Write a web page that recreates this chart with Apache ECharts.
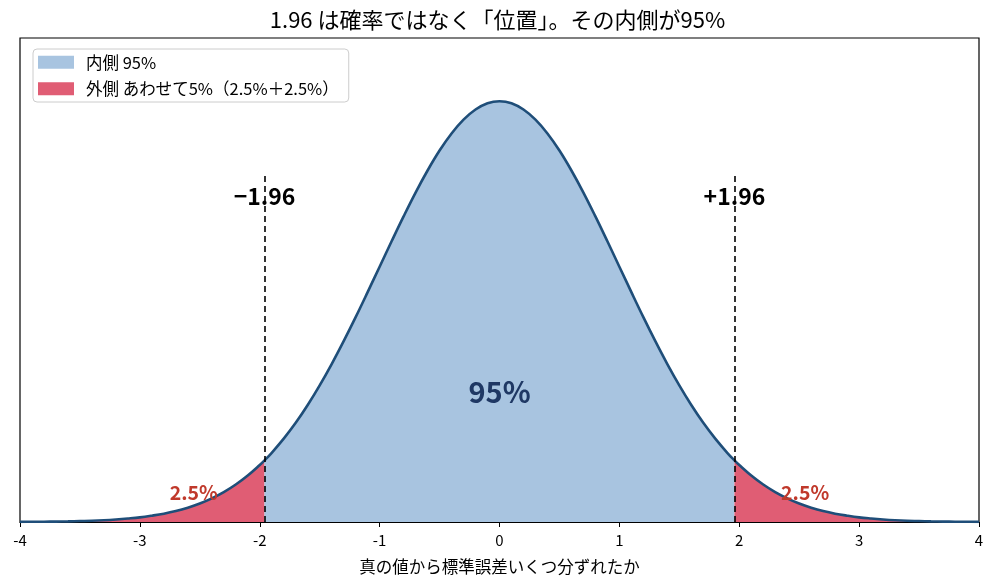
<!DOCTYPE html>
<html>
<head>
<meta charset="utf-8">
<script src="https://cdn.jsdelivr.net/npm/echarts@6/dist/echarts.min.js"></script>
<style>
  html, body { margin: 0; padding: 0; background: #fff; }
  #chart { width: 995px; height: 587px; }
</style>
</head>
<body>
<div id="chart"></div>
<script>
// 標準正規分布の曲線
var curveX = [-4.0, -3.9, -3.8, -3.7, -3.6, -3.5, -3.4, -3.3, -3.2, -3.1,
  -3.0, -2.9, -2.8, -2.7, -2.6, -2.5, -2.4, -2.3, -2.2, -2.1,
  -2.0, -1.96, -1.9, -1.8, -1.7, -1.6, -1.5, -1.4, -1.3, -1.2, -1.1,
  -1.0, -0.9, -0.8, -0.7, -0.6, -0.5, -0.4, -0.3, -0.2, -0.1,
  0.0, 0.1, 0.2, 0.3, 0.4, 0.5, 0.6, 0.7, 0.8, 0.9,
  1.0, 1.1, 1.2, 1.3, 1.4, 1.5, 1.6, 1.7, 1.8, 1.9, 1.96,
  2.0, 2.1, 2.2, 2.3, 2.4, 2.5, 2.6, 2.7, 2.8, 2.9,
  3.0, 3.1, 3.2, 3.3, 3.4, 3.5, 3.6, 3.7, 3.8, 3.9, 4.0];
var curveY = [0.0001, 0.0002, 0.0003, 0.0004, 0.0006, 0.0009, 0.0012, 0.0017, 0.0024, 0.0033,
  0.0044, 0.0060, 0.0079, 0.0104, 0.0136, 0.0175, 0.0224, 0.0283, 0.0355, 0.0440,
  0.0540, 0.0584, 0.0656, 0.0790, 0.0940, 0.1109, 0.1295, 0.1497, 0.1714, 0.1942, 0.2179,
  0.2420, 0.2661, 0.2897, 0.3123, 0.3332, 0.3521, 0.3683, 0.3814, 0.3910, 0.3970,
  0.3989, 0.3970, 0.3910, 0.3814, 0.3683, 0.3521, 0.3332, 0.3123, 0.2897, 0.2661,
  0.2420, 0.2179, 0.1942, 0.1714, 0.1497, 0.1295, 0.1109, 0.0940, 0.0790, 0.0656, 0.0584,
  0.0540, 0.0440, 0.0355, 0.0283, 0.0224, 0.0175, 0.0136, 0.0104, 0.0079, 0.0060,
  0.0044, 0.0033, 0.0024, 0.0017, 0.0012, 0.0009, 0.0006, 0.0004, 0.0003, 0.0002, 0.0001];

var cutoff = 1.96;
var cutLineTop = 0.328;
var cutLabelX = [-1.96, 1.96];
var cutLabelY = [0.309, 0.309];
var cutLabelText = ['\u22121.96', '+1.96'];
var tailLabelX = [-2.55, 2.55];
var tailLabelY = [0.028, 0.028];
var tailLabelText = ['2.5%', '2.5%'];
var centerLabel = [0, 0.123, '95%'];

var nameInner = '内側 95%';
var nameOuter = '外側 あわせて5%（2.5%＋2.5%）';
var FONT = '"Noto Sans CJK JP", "Noto Sans", sans-serif';

var pts = curveX.map(function (x, i) { return [x, curveY[i]]; });
var leftTail = pts.filter(function (p) { return p[0] <= -cutoff; });
var center = pts.filter(function (p) { return p[0] >= -cutoff && p[0] <= cutoff; });
var rightTail = pts.filter(function (p) { return p[0] >= cutoff; });

function areaSeries(name, data, color) {
  return {
    name: name, type: 'line', data: data, symbol: 'none',
    smooth: 0.4,
    lineStyle: { width: 0 }, itemStyle: { color: color },
    areaStyle: { color: color, opacity: 1 }, silent: true, z: 1
  };
}

function textSeries(data, size, color) {
  return {
    type: 'scatter', symbolSize: 0, silent: true, z: 5,
    itemStyle: { opacity: 1 },
    data: data,
    label: { show: true, position: 'inside', formatter: function (p) { return p.data[2]; },
      fontFamily: FONT, fontSize: size, fontWeight: 'bold', color: color, opacity: 1 }
  };
}

var chart = echarts.init(document.getElementById('chart'));
chart.setOption({
  animation: false,
  textStyle: { fontFamily: FONT },
  title: {
    text: '1.96 は確率ではなく「位置」。その内側が95%',
    left: 'center', top: 4,
    textStyle: { fontFamily: FONT, fontSize: 22, fontWeight: 'normal', color: '#000' }
  },
  legend: {
    orient: 'vertical', left: 33, top: 49,
    data: [nameInner, nameOuter],
    icon: 'rect', itemWidth: 36, itemHeight: 13, itemGap: 10,
    padding: [5, 10, 5, 5],
    backgroundColor: '#fff', borderColor: '#ccc', borderWidth: 1, borderRadius: 4,
    textStyle: { fontFamily: FONT, fontSize: 16.5, color: '#000', padding: [0, 0, 0, 7] }
  },
  grid: { left: 20, right: 16, top: 38, bottom: 65, show: true, borderColor: '#000', borderWidth: 1.2 },
  xAxis: {
    type: 'value', min: -4, max: 4, interval: 1,
    name: '真の値から標準誤差いくつ分ずれたか', nameLocation: 'middle', nameGap: 36,
    nameTextStyle: { fontFamily: FONT, fontSize: 16.5, color: '#000' },
    axisLine: { lineStyle: { color: '#000', width: 1.2 } },
    axisTick: { show: true, length: 5, lineStyle: { color: '#000' } },
    axisLabel: { fontFamily: FONT, fontSize: 15, color: '#000', margin: 11,
      formatter: function (v) { return String(v); } },
    splitLine: { show: false }
  },
  yAxis: {
    type: 'value', min: 0, max: 0.4588,
    axisLine: { show: false }, axisTick: { show: false }, axisLabel: { show: false },
    splitLine: { show: false }
  },
  series: [
    areaSeries(nameOuter, leftTail, '#e05d74'),
    areaSeries(nameInner, center, '#a8c4e0'),
    areaSeries(nameOuter, rightTail, '#e05d74'),
    {
      type: 'line', data: pts, symbol: 'none', silent: true, z: 3,
      smooth: 0.4,
      lineStyle: { color: '#1f4e79', width: 2.6 },
      markLine: {
        symbol: 'none', silent: true, z: 6,
        label: { show: false },
        lineStyle: { color: '#000', type: [6, 4], width: 1.6 },
        data: cutLabelX.map(function (x) { return [{ coord: [x, 0] }, { coord: [x, cutLineTop] }]; })
      }
    },
    textSeries(cutLabelX.map(function (x, i) { return [x, cutLabelY[i], cutLabelText[i]]; }), 23, '#000'),
    textSeries(tailLabelX.map(function (x, i) { return [x, tailLabelY[i], tailLabelText[i]]; }), 19.5, '#c0392b'),
    textSeries([centerLabel], 29, '#1f3864')
  ]
});
</script>
</body>
</html>
